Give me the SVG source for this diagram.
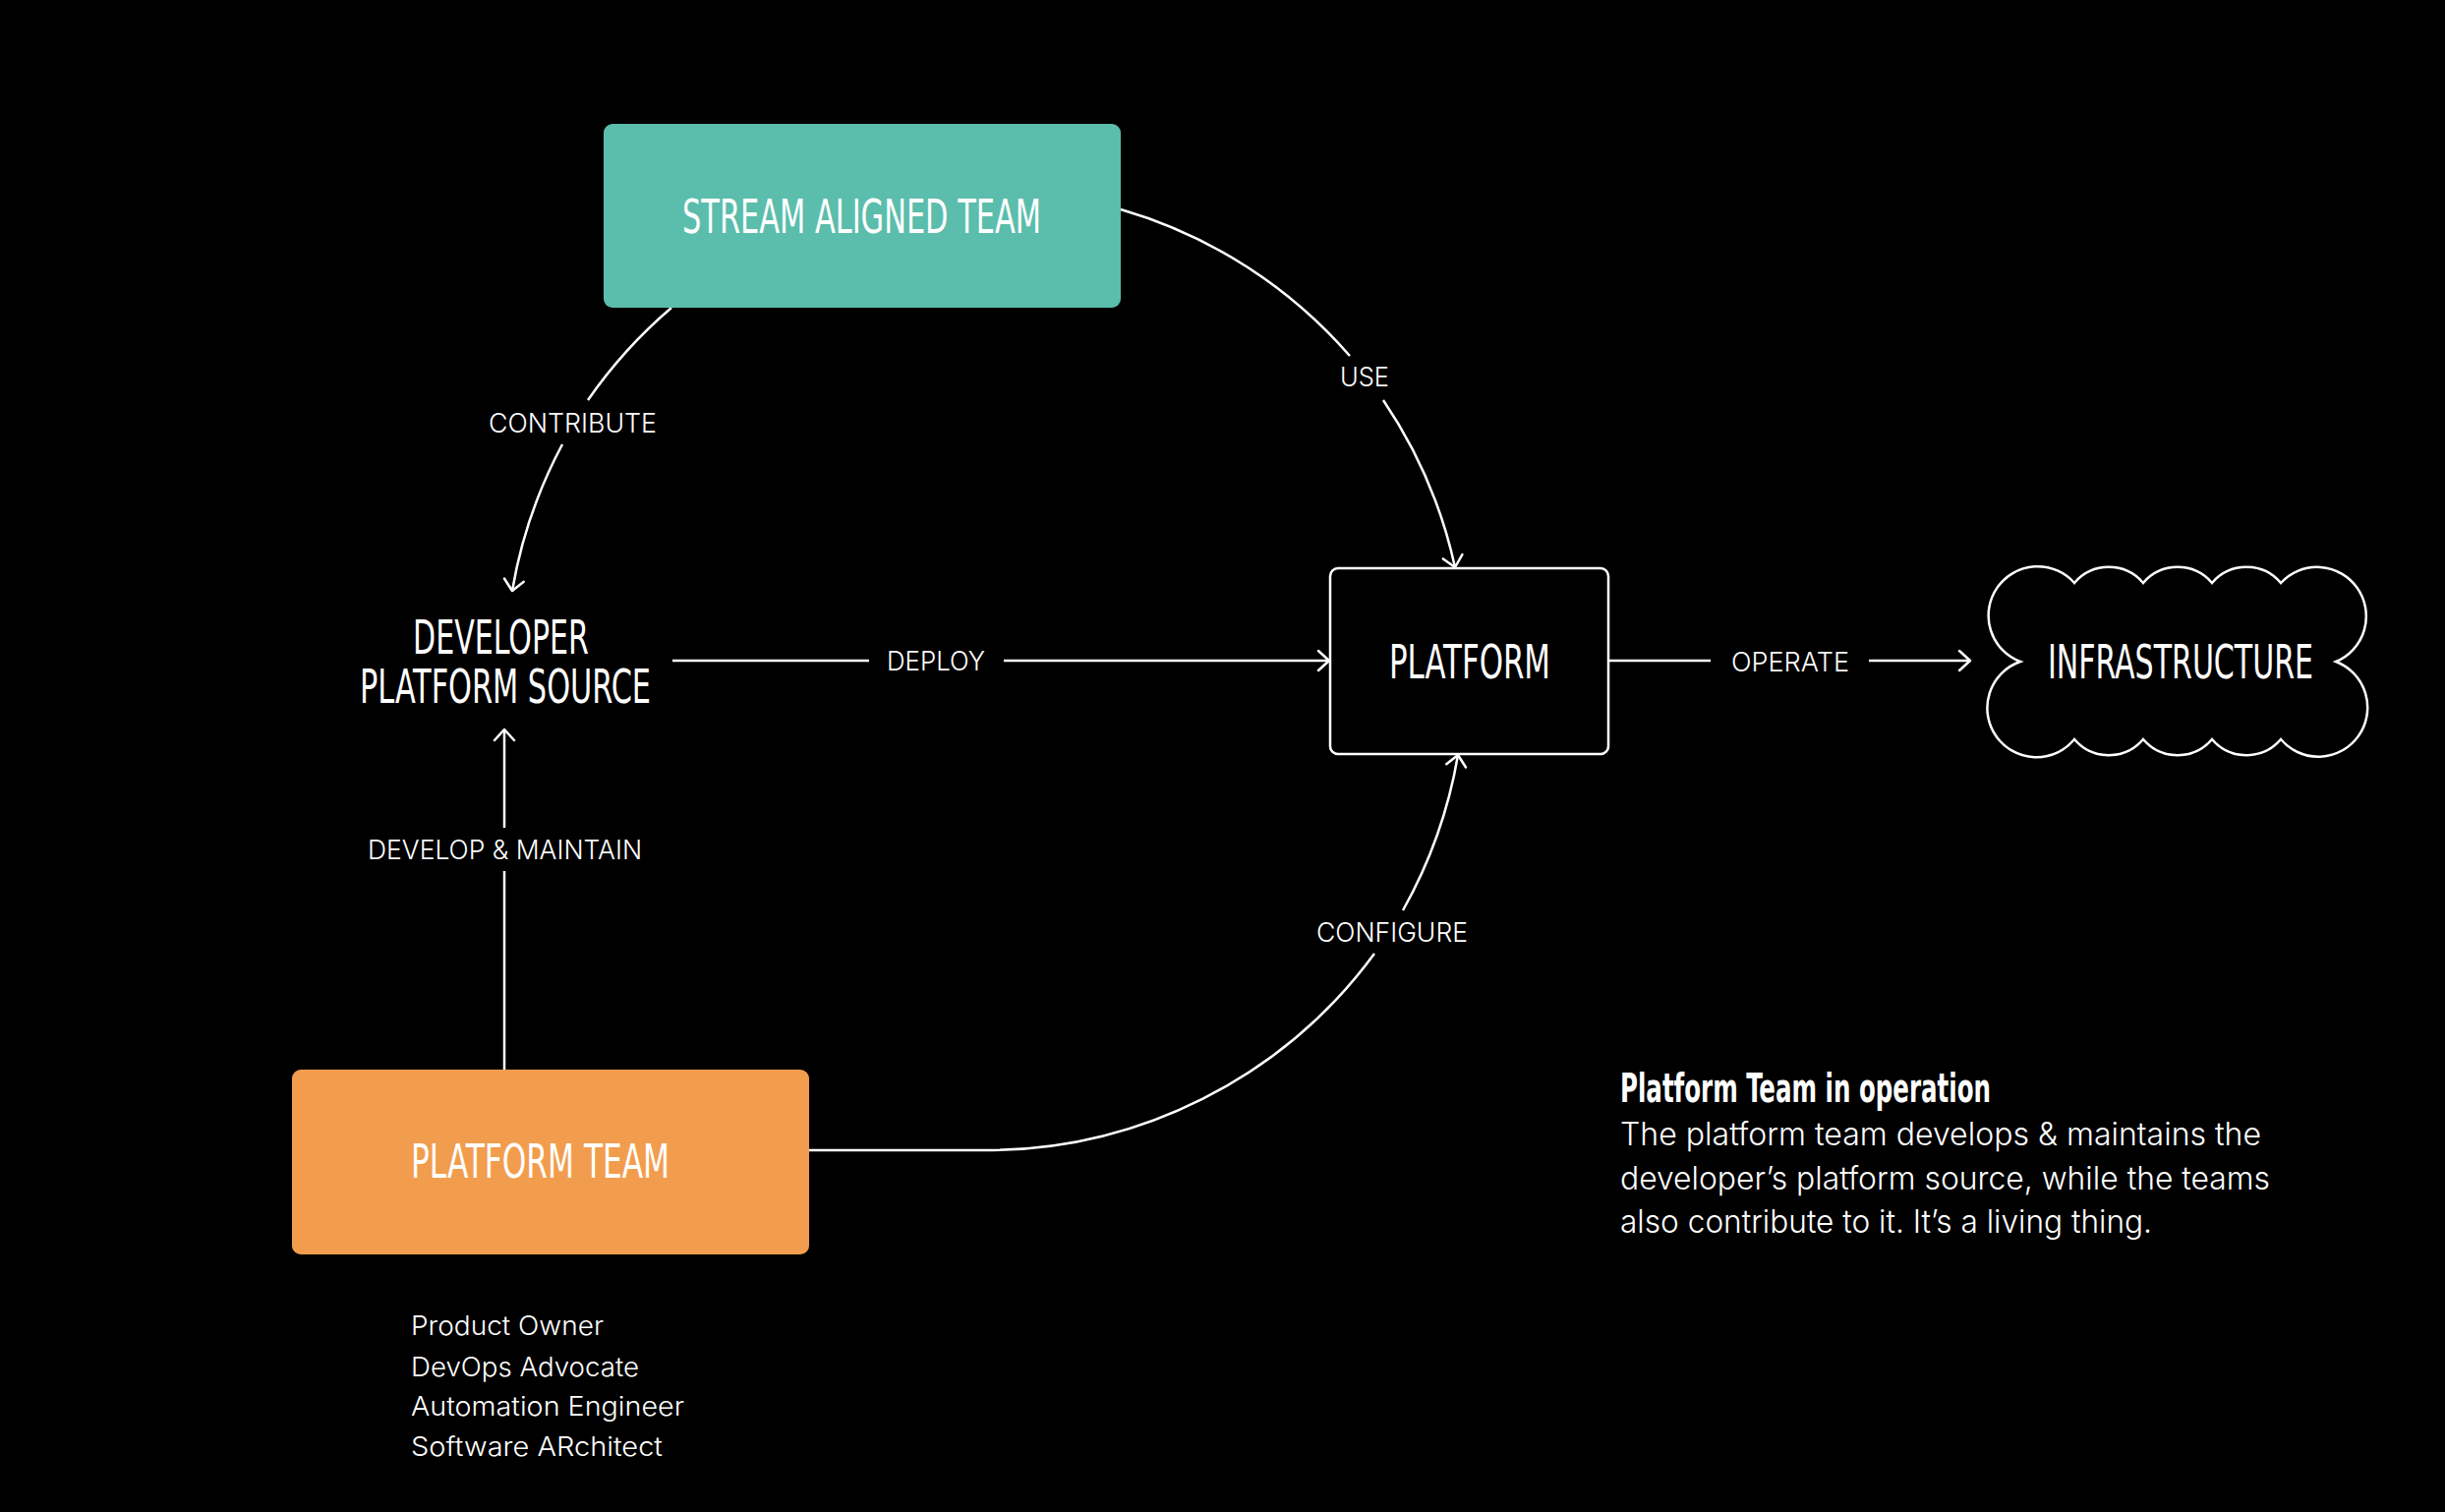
<svg xmlns="http://www.w3.org/2000/svg" width="2487" height="1538" viewBox="0 0 2487 1538">
  <style>
    .title { font-family: "DejaVu Sans Condensed", "Liberation Sans Narrow", "Roboto Condensed", "DejaVu Sans", sans-serif; font-stretch: condensed; font-size: 48px; fill: #ffffff; }
    .lbl { font-family: Inter, "Noto Sans", "Liberation Sans", sans-serif; font-size: 27px; font-weight: 300; fill: #ffffff; }
    .body { font-family: Inter, "Noto Sans", "Liberation Sans", sans-serif; font-size: 33px; font-weight: 300; fill: #ffffff; }
    .head { font-family: "DejaVu Sans Condensed", "Liberation Sans Narrow", "DejaVu Sans", sans-serif; font-stretch: condensed; font-size: 40px; font-weight: bold; fill: #ffffff; }
    .conn { fill: none; stroke: #ffffff; stroke-width: 2.5; }
    .outline { fill: #000000; stroke: #ffffff; stroke-width: 2.5; }
  </style>
  <defs>
    <marker id="arr" viewBox="-13 -12 16 24" markerWidth="16" markerHeight="24" refX="0" refY="0" orient="auto" markerUnits="userSpaceOnUse">
      <path d="M-11,-10 L0,0 L-11,10" fill="none" stroke="#ffffff" stroke-width="2.5" stroke-linejoin="round" stroke-linecap="round"/>
    </marker>
  </defs>
  <rect x="0" y="0" width="2487" height="1538" fill="#000000"/>

  <g id="connectors">
    <path class="conn" d="M 683 313 A 490 490 0 0 0 598 407"/>
    <path class="conn" d="M 572 452 A 490 490 0 0 0 521 601" marker-end="url(#arr)"/>
    <path class="conn" d="M 1140 213 A 490 490 0 0 1 1373 362"/>
    <path class="conn" d="M 1407 407 A 490 490 0 0 1 1480 577" marker-end="url(#arr)"/>
    <path class="conn" d="M 684 672 H 884"/>
    <path class="conn" d="M 1021 672 H 1352" marker-end="url(#arr)"/>
    <path class="conn" d="M 1636 672 H 1740"/>
    <path class="conn" d="M 1901 672 H 2004" marker-end="url(#arr)"/>
    <path class="conn" d="M 822 1170 H 1000 A 490 490 0 0 0 1398 970"/>
    <path class="conn" d="M 1427 926 A 490 490 0 0 0 1483 768" marker-end="url(#arr)"/>
    <path class="conn" d="M 513 1088 V 886"/>
    <path class="conn" d="M 513 842 V 742" marker-end="url(#arr)"/>
    <text class="lbl" x="497" y="440" textLength="171" lengthAdjust="spacingAndGlyphs">CONTRIBUTE</text>
    <text class="lbl" x="1363" y="393" textLength="50" lengthAdjust="spacingAndGlyphs">USE</text>
    <text class="lbl" x="902" y="682" textLength="100" lengthAdjust="spacingAndGlyphs">DEPLOY</text>
    <text class="lbl" x="1761" y="683" textLength="120" lengthAdjust="spacingAndGlyphs">OPERATE</text>
    <text class="lbl" x="1339" y="958" textLength="154" lengthAdjust="spacingAndGlyphs">CONFIGURE</text>
    <text class="lbl" x="374" y="874" textLength="279" lengthAdjust="spacingAndGlyphs">DEVELOP &amp; MAINTAIN</text>
  </g>

  <g id="stream-aligned-team">
    <rect x="614" y="126" width="526" height="187" rx="9" fill="#5BBDAB"/>
    <text class="title" x="694" y="237" textLength="365" lengthAdjust="spacingAndGlyphs">STREAM ALIGNED TEAM</text>
  </g>

  <g id="developer-platform-source">
    <text class="title" x="420" y="665" textLength="179" lengthAdjust="spacingAndGlyphs">DEVELOPER</text>
    <text class="title" x="366" y="715" textLength="296" lengthAdjust="spacingAndGlyphs">PLATFORM SOURCE</text>
  </g>

  <g id="platform">
    <rect class="outline" x="1353" y="578" width="283" height="189" rx="8"/>
    <text class="title" x="1413" y="690" textLength="164" lengthAdjust="spacingAndGlyphs">PLATFORM</text>
  </g>

  <g id="infrastructure">
    <path class="outline" d="M 2055 673 A 50 50 0 1 1 2110 593 A 46 46 0 0 1 2180 593 A 46 46 0 0 1 2250 593 A 46 46 0 0 1 2320 593 A 50 50 0 1 1 2376 673 A 50 50 0 1 1 2320 752 A 46 46 0 0 1 2250 752 A 46 46 0 0 1 2180 752 A 46 46 0 0 1 2110 752 A 50 50 0 1 1 2055 673 Z"/>
    <text class="title" x="2083" y="690" textLength="270" lengthAdjust="spacingAndGlyphs">INFRASTRUCTURE</text>
  </g>

  <g id="platform-team">
    <rect x="297" y="1088" width="526" height="188" rx="9" fill="#F29D4E"/>
    <text class="title" x="418" y="1198" textLength="263" lengthAdjust="spacingAndGlyphs">PLATFORM TEAM</text>
    <text class="lbl" x="418" y="1358" textLength="196" lengthAdjust="spacingAndGlyphs">Product Owner</text>
    <text class="lbl" x="418" y="1400" textLength="232" lengthAdjust="spacingAndGlyphs">DevOps Advocate</text>
    <text class="lbl" x="418" y="1440" textLength="278" lengthAdjust="spacingAndGlyphs">Automation Engineer</text>
    <text class="lbl" x="418" y="1481" textLength="256" lengthAdjust="spacingAndGlyphs">Software ARchitect</text>
  </g>

  <g id="description">
    <text class="head" x="1648" y="1121" textLength="377" lengthAdjust="spacingAndGlyphs">Platform Team in operation</text>
    <text class="body" x="1648" y="1165" textLength="652" lengthAdjust="spacingAndGlyphs">The platform team develops &amp; maintains the</text>
    <text class="body" x="1648" y="1210" textLength="661" lengthAdjust="spacingAndGlyphs">developer’s platform source, while the teams</text>
    <text class="body" x="1648" y="1254" textLength="541" lengthAdjust="spacingAndGlyphs">also contribute to it. It’s a living thing.</text>
  </g>
</svg>
